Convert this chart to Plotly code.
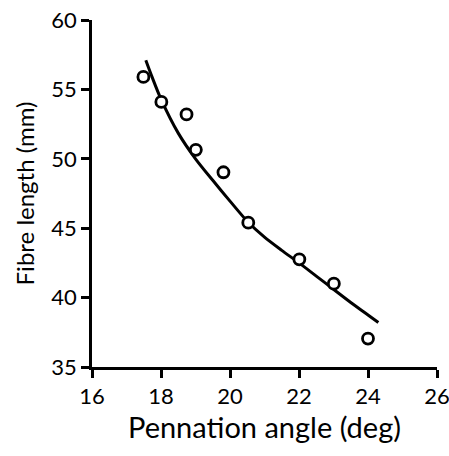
import plotly.graph_objects as go

# Measured points
angle_pts = [17.49, 18.01, 18.74, 19.01, 19.81, 20.53, 22.01, 23.01, 24.0]
length_pts = [55.9, 54.1, 53.2, 50.65, 49.03, 45.4, 42.76, 41.0, 37.05]

# Fitted curve
curve_angle = [17.56, 17.74, 18.0, 18.5, 19.0, 19.5, 20.0, 20.5, 21.0, 21.5,
               22.0, 22.5, 23.0, 23.5, 24.0, 24.3]
curve_length = [57.1, 55.9, 54.3, 51.85, 50.0, 48.45, 46.95, 45.5, 44.35, 43.4,
                42.5, 41.55, 40.6, 39.65, 38.75, 38.2]

x_ticks = [16, 18, 20, 22, 24, 26]
y_ticks = [35, 40, 45, 50, 55, 60]

FONT = "Lato"

fig = go.Figure()
fig.add_trace(go.Scatter(
    x=curve_angle, y=curve_length, mode="lines",
    line=dict(color="black", width=3, shape="spline", smoothing=0.8),
    hoverinfo="skip", showlegend=False,
))
fig.add_trace(go.Scatter(
    x=angle_pts, y=length_pts, mode="markers",
    marker=dict(symbol="circle", size=11, color="white",
                line=dict(color="black", width=2.8)),
    showlegend=False,
))

axis_common = dict(
    showgrid=False, zeroline=False, showline=True, linecolor="black", linewidth=2.5,
    ticks="outside", ticklen=8, tickwidth=2.5, tickcolor="black",
    tickfont=dict(family=FONT, size=22, color="black"),
    ticklabeloverflow="allow", automargin=False,
)

fig.update_layout(
    width=449, height=456,
    margin=dict(l=92, r=12, t=20, b=89),
    plot_bgcolor="white", paper_bgcolor="white",
    xaxis=dict(range=[16, 26], tickvals=x_ticks,
               title=dict(text="Pennation angle (deg)", font=dict(family=FONT, size=29, color="black"), standoff=10),
               **axis_common),
    yaxis=dict(range=[35, 60], tickvals=y_ticks,
               title=dict(text="Fibre length (mm)", font=dict(family=FONT, size=24, color="black"), standoff=10),
               **axis_common),
)

fig.write_html("out.html")
